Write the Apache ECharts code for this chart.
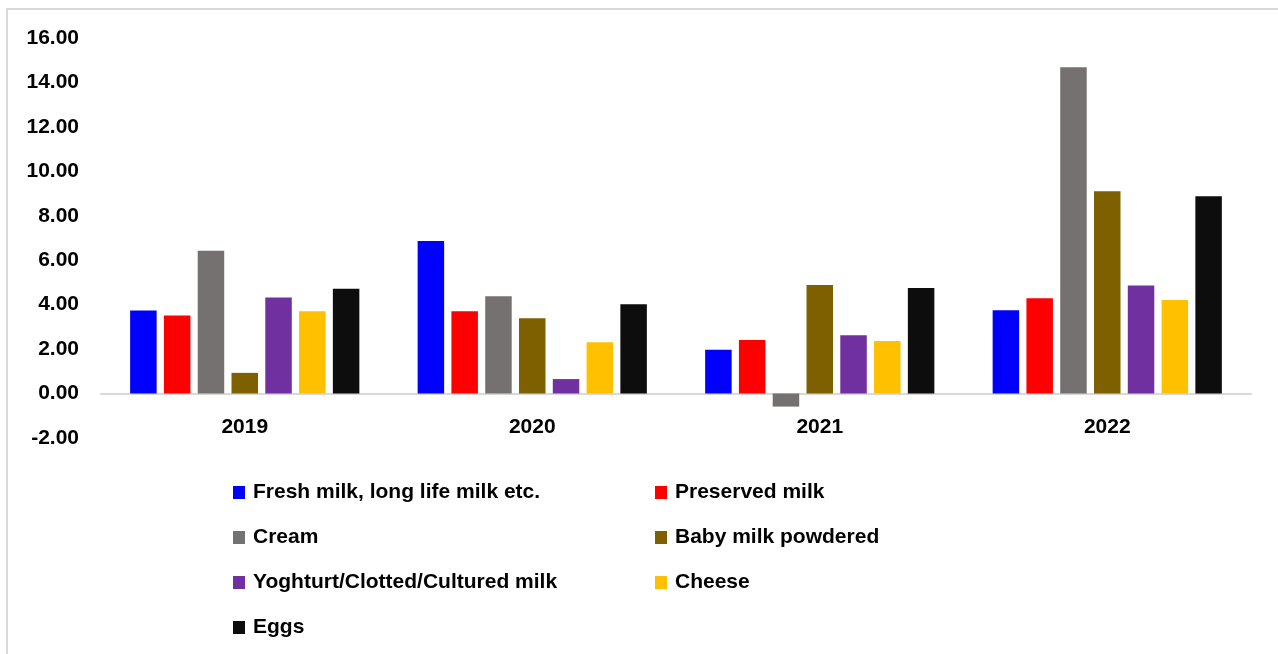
<!DOCTYPE html>
<html>
<head>
<meta charset="utf-8">
<script src="https://cdn.jsdelivr.net/npm/echarts@6/dist/echarts.min.js"></script>
<style>
  html, body { margin: 0; padding: 0; background: #ffffff; }
  #chart { width: 1278px; height: 654px; }
</style>
</head>
<body>
<div id="chart"></div>
<script>
// Years on the category axis
const years = ['2019', '2020', '2021', '2022'];

// Annual change per product (%)
const freshMilk   = [3.74, 6.87, 1.97, 3.75];
const preserved   = [3.51, 3.70, 2.41, 4.29];
const cream       = [6.43, 4.38, -0.59, 14.70];
const babyMilk    = [0.93, 3.39, 4.89, 9.11];
const yoghurt     = [4.32, 0.65, 2.62, 4.87];
const cheese      = [3.71, 2.31, 2.36, 4.21];
const eggs        = [4.72, 4.02, 4.75, 8.88];

const seriesNames = [
  'Fresh milk, long life milk etc.',
  'Preserved milk',
  'Cream',
  'Baby milk powdered',
  'Yoghturt/Clotted/Cultured milk',
  'Cheese',
  'Eggs'
];
const seriesData = [freshMilk, preserved, cream, babyMilk, yoghurt, cheese, eggs];
const colors = ['#0000FF', '#FF0000', '#767171', '#7F6000', '#7030A0', '#FFC000', '#0D0D0D'];

// Value axis range and step
const yMin = -2, yMax = 16, yStep = 2;

const font = "'Liberation Sans', Arial, sans-serif";

const chart = echarts.init(document.getElementById('chart'), null, { renderer: 'canvas' });

const legendText = {
  fontFamily: font,
  fontWeight: 'bold',
  fontSize: 21,
  lineHeight: 21,
  color: '#000000',
  padding: [0, 0, 0, 3]
};

chart.setOption({
  animation: false,
  backgroundColor: '#ffffff',
  color: colors,
  graphic: [{
    type: 'rect',
    shape: { x: 7, y: 9, width: 1400, height: 800 },
    style: { fill: 'none', stroke: '#d9d9d9', lineWidth: 2 },
    silent: true
  }],
  grid: { left: 101, right: 27, top: 38.3, bottom: 216.1, containLabel: false },
  legend: [
    {
      orient: 'vertical',
      left: 233, top: 482, padding: 0,
      itemWidth: 12, itemHeight: 13, itemGap: 24,
      icon: 'rect',
      data: [seriesNames[0], seriesNames[2], seriesNames[4], seriesNames[6]],
      textStyle: legendText
    },
    {
      orient: 'vertical',
      left: 655, top: 482, padding: 0,
      itemWidth: 12, itemHeight: 13, itemGap: 24,
      icon: 'rect',
      data: [seriesNames[1], seriesNames[3], seriesNames[5]],
      textStyle: legendText
    }
  ],
  xAxis: {
    type: 'category',
    data: years,
    axisLine: { onZero: true, lineStyle: { color: '#d9d9d9', width: 2 } },
    axisTick: { show: false },
    axisLabel: {
      // category labels sit just under the zero line, above the -2 tick
      margin: -21,
      fontFamily: font,
      fontWeight: 'bold',
      fontSize: 21,
      color: '#000000'
    },
    splitLine: { show: false }
  },
  yAxis: {
    type: 'value',
    min: yMin, max: yMax, interval: yStep,
    axisLine: { show: false },
    axisTick: { show: false },
    splitLine: { show: false },
    axisLabel: {
      margin: 22,
      fontFamily: font,
      fontWeight: 'bold',
      fontSize: 21,
      color: '#000000',
      formatter: v => v.toFixed(2)
    }
  },
  series: seriesNames.map((name, i) => ({
    name: name,
    type: 'bar',
    data: seriesData[i],
    barWidth: 26.5,
    barGap: '27.5%',
    itemStyle: { color: colors[i] }
  }))
});
</script>
</body>
</html>
